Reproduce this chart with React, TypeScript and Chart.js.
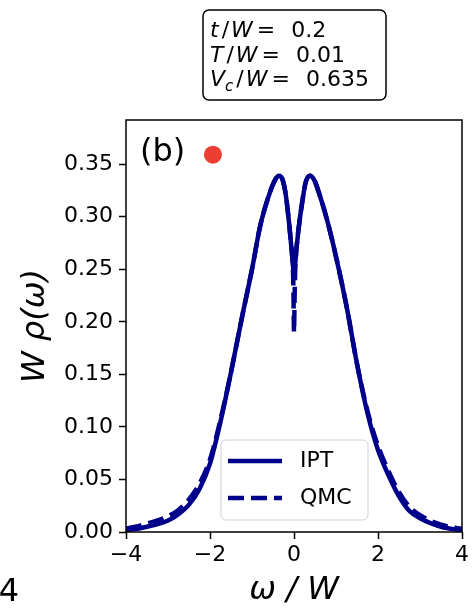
import React, { useEffect, useRef } from "react";
import { Chart, registerables } from "chart.js";

Chart.register(...registerables);

// ---- data ----
const omegaIPT = [-4, -3.5, -3, -2.75, -2.5, -2.25, -2, -1.75, -1.5, -1.25, -1, -0.8, -0.6, -0.45, -0.36, -0.28, -0.2, -0.12, -0.06, 0, 0.06, 0.12, 0.2, 0.28, 0.38, 0.48, 0.6, 0.8, 1, 1.25, 1.5, 1.75, 2, 2.25, 2.5, 2.75, 3, 3.5, 4];
const rhoIPT = [0.0015, 0.005, 0.011, 0.017, 0.026, 0.041, 0.065, 0.105, 0.152, 0.202, 0.25, 0.292, 0.32, 0.335, 0.339, 0.336, 0.322, 0.295, 0.27, 0.247, 0.27, 0.292, 0.315, 0.333, 0.339, 0.335, 0.322, 0.295, 0.262, 0.215, 0.16, 0.113, 0.078, 0.054, 0.034, 0.02, 0.013, 0.005, 0.0015];

const omegaQMC = [-4, -3.5, -3, -2.75, -2.5, -2.25, -2, -1.75, -1.5, -1.25, -1, -0.8, -0.6, -0.45, -0.36, -0.28, -0.2, -0.12, -0.06, -0.03, -0.015, 0, 0.015, 0.03, 0.06, 0.12, 0.2, 0.28, 0.38, 0.48, 0.6, 0.8, 1, 1.25, 1.5, 1.75, 2, 2.25, 2.5, 2.75, 3, 3.5, 4];
const rhoQMC = [0.003, 0.008, 0.015, 0.021, 0.031, 0.046, 0.069, 0.107, 0.152, 0.202, 0.25, 0.292, 0.32, 0.335, 0.339, 0.336, 0.322, 0.295, 0.27, 0.255, 0.235, 0.19, 0.225, 0.25, 0.27, 0.292, 0.315, 0.333, 0.339, 0.335, 0.322, 0.295, 0.262, 0.215, 0.16, 0.115, 0.082, 0.058, 0.038, 0.024, 0.016, 0.007, 0.003];

const markerX = [-1.93];
const markerY = [0.359];

const xTicks = [-4, -2, 0, 2, 4];
const yTicks = [0, 0.05, 0.1, 0.15, 0.2, 0.25, 0.3, 0.35];
const seriesLabels = ["IPT", "QMC"];
const panelLabel = "(b)";
const paramLines = [
  { name: "t", sub: "", value: "0.2" },
  { name: "T", sub: "", value: "0.01" },
  { name: "V", sub: "c", value: "0.635" },
];

const LINE = "#00008b";
const FONT = "'DejaVu Sans', sans-serif";

function roundRect(ctx: CanvasRenderingContext2D, x: number, y: number, w: number, h: number, r: number) {
  ctx.beginPath();
  ctx.moveTo(x + r, y);
  ctx.lineTo(x + w - r, y);
  ctx.arcTo(x + w, y, x + w, y + r, r);
  ctx.lineTo(x + w, y + h - r);
  ctx.arcTo(x + w, y + h, x + w - r, y + h, r);
  ctx.lineTo(x + r, y + h);
  ctx.arcTo(x, y + h, x, y + h - r, r);
  ctx.lineTo(x, y + r);
  ctx.arcTo(x, y, x + r, y, r);
  ctx.closePath();
}

const decorPlugin = {
  id: "decor",
  afterDatasetsDraw(chart: any) {
    const { ctx, chartArea } = chart;
    ctx.save();
    // frame
    ctx.strokeStyle = "#000";
    ctx.lineWidth = 1.5;
    ctx.strokeRect(chartArea.left, chartArea.top, chartArea.right - chartArea.left, chartArea.bottom - chartArea.top);

    // panel label
    ctx.fillStyle = "#000";
    ctx.font = `32px ${FONT}`;
    ctx.textBaseline = "middle";
    ctx.textAlign = "left";
    ctx.fillText(panelLabel, 140, 153);

    // legend
    roundRect(ctx, 221, 440, 147, 80, 5);
    ctx.fillStyle = "rgba(255,255,255,0.8)";
    ctx.fill();
    ctx.strokeStyle = "#d0d0d0";
    ctx.lineWidth = 1;
    ctx.stroke();
    const rows = [461, 498];
    seriesLabels.forEach((lab, i) => {
      ctx.strokeStyle = LINE;
      ctx.lineWidth = 4.5;
      ctx.setLineDash(i === 0 ? [] : [16, 7]);
      ctx.beginPath();
      ctx.moveTo(228, rows[i]);
      ctx.lineTo(282, rows[i]);
      ctx.stroke();
      ctx.setLineDash([]);
      ctx.fillStyle = "#000";
      ctx.font = `22px ${FONT}`;
      ctx.textBaseline = "middle";
      ctx.fillText(lab, 300, rows[i]);
    });

    // parameter box
    roundRect(ctx, 203, 10, 183, 90, 6);
    ctx.fillStyle = "#fff";
    ctx.fill();
    ctx.strokeStyle = "#000";
    ctx.lineWidth = 1.5;
    ctx.stroke();
    const baselines = [37, 62, 86];
    ctx.textBaseline = "alphabetic";
    ctx.fillStyle = "#000";
    paramLines.forEach((p, i) => {
      let x = 210;
      const y = baselines[i];
      ctx.font = `italic 22px ${FONT}`;
      ctx.fillText(p.name, x, y);
      x += ctx.measureText(p.name).width;
      if (p.sub) {
        ctx.font = `italic 15px ${FONT}`;
        ctx.fillText(p.sub, x, y + 5);
        x += ctx.measureText(p.sub).width;
      }
      x += 3;
      ctx.font = `22px ${FONT}`;
      ctx.fillText("/", x, y);
      x += ctx.measureText("/").width + 2;
      ctx.font = `italic 22px ${FONT}`;
      ctx.fillText("W", x, y);
      x += ctx.measureText("W").width + 4;
      ctx.font = `22px ${FONT}`;
      ctx.fillText("=", x, y);
      x += ctx.measureText("=").width + 16;
      ctx.fillText(p.value, x, y);
    });

    // neighbour panel tick fragment
    ctx.font = `32px ${FONT}`;
    ctx.textAlign = "right";
    ctx.textBaseline = "middle";
    ctx.fillText("4", 19, 593);
    ctx.restore();
  },
};

export default function App() {
  const ref = useRef<HTMLCanvasElement>(null);
  useEffect(() => {
    const canvas = ref.current;
    if (!canvas) return;
    const chart = new Chart(canvas, {
      type: "line",
      data: {
        datasets: [
          {
            label: seriesLabels[0],
            data: omegaIPT.map((x, i) => ({ x, y: rhoIPT[i] })),
            borderColor: LINE,
            borderWidth: 4.5,
            pointRadius: 0,
            cubicInterpolationMode: "monotone",
            fill: false,
          },
          {
            label: seriesLabels[1],
            data: omegaQMC.map((x, i) => ({ x, y: rhoQMC[i] })),
            borderColor: LINE,
            borderWidth: 4.5,
            borderDash: [16, 7],
            pointRadius: 0,
            cubicInterpolationMode: "monotone",
            fill: false,
          },
          {
            label: "marker",
            type: "scatter",
            data: markerX.map((x, i) => ({ x, y: markerY[i] })),
            backgroundColor: "#ee3d33",
            borderWidth: 0,
            pointRadius: 9,
            showLine: false,
          } as any,
        ],
      },
      options: {
        animation: false,
        responsive: false,
        maintainAspectRatio: false,
        layout: { padding: { top: 120, right: 10, left: 0, bottom: 0 } },
        plugins: { legend: { display: false }, tooltip: { enabled: false } },
        scales: {
          x: {
            type: "linear",
            min: -4,
            max: 4,
            afterBuildTicks: (s: any) => {
              s.ticks = xTicks.map((v) => ({ value: v }));
            },
            afterFit: (s: any) => {
              s.height = 82;
            },
            ticks: {
              callback: (v: any) => (Number(v) < 0 ? "\u2212" + Math.abs(Number(v)) : String(v)),
              font: { size: 22, family: FONT },
              color: "#000",
              padding: 3,
              maxRotation: 0,
              autoSkip: false,
            },
            grid: { display: true, drawOnChartArea: false, drawTicks: true, tickLength: 7, tickWidth: 1.5, tickColor: "#000" },
            border: { display: false },
            title: {
              display: true,
              text: "ω / W",
              font: { size: 32, style: "italic", family: FONT },
              color: "#000",
              padding: { top: 0, bottom: 4 },
            },
          },
          y: {
            type: "linear",
            min: 0,
            max: 0.392,
            afterBuildTicks: (s: any) => {
              s.ticks = yTicks.map((v) => ({ value: v }));
            },
            afterFit: (s: any) => {
              s.width = 126;
            },
            ticks: {
              callback: (v: any) => Number(v).toFixed(2),
              font: { size: 22, family: FONT },
              color: "#000",
              padding: 6,
              autoSkip: false,
            },
            grid: { display: true, drawOnChartArea: false, drawTicks: true, tickLength: 7, tickWidth: 1.5, tickColor: "#000" },
            border: { display: false },
            title: {
              display: true,
              text: "W ρ(ω)",
              font: { size: 32, style: "italic", family: FONT },
              color: "#000",
              padding: { top: 16, bottom: 0 },
            },
          },
        },
      },
      plugins: [decorPlugin],
    });
    return () => chart.destroy();
  }, []);
  return (
    <div style={{ position: "absolute", left: 0, top: 0, width: 472, height: 614, background: "#fff" }}>
      <canvas ref={ref} width={472} height={614} style={{ display: "block" }} />
    </div>
  );
}
